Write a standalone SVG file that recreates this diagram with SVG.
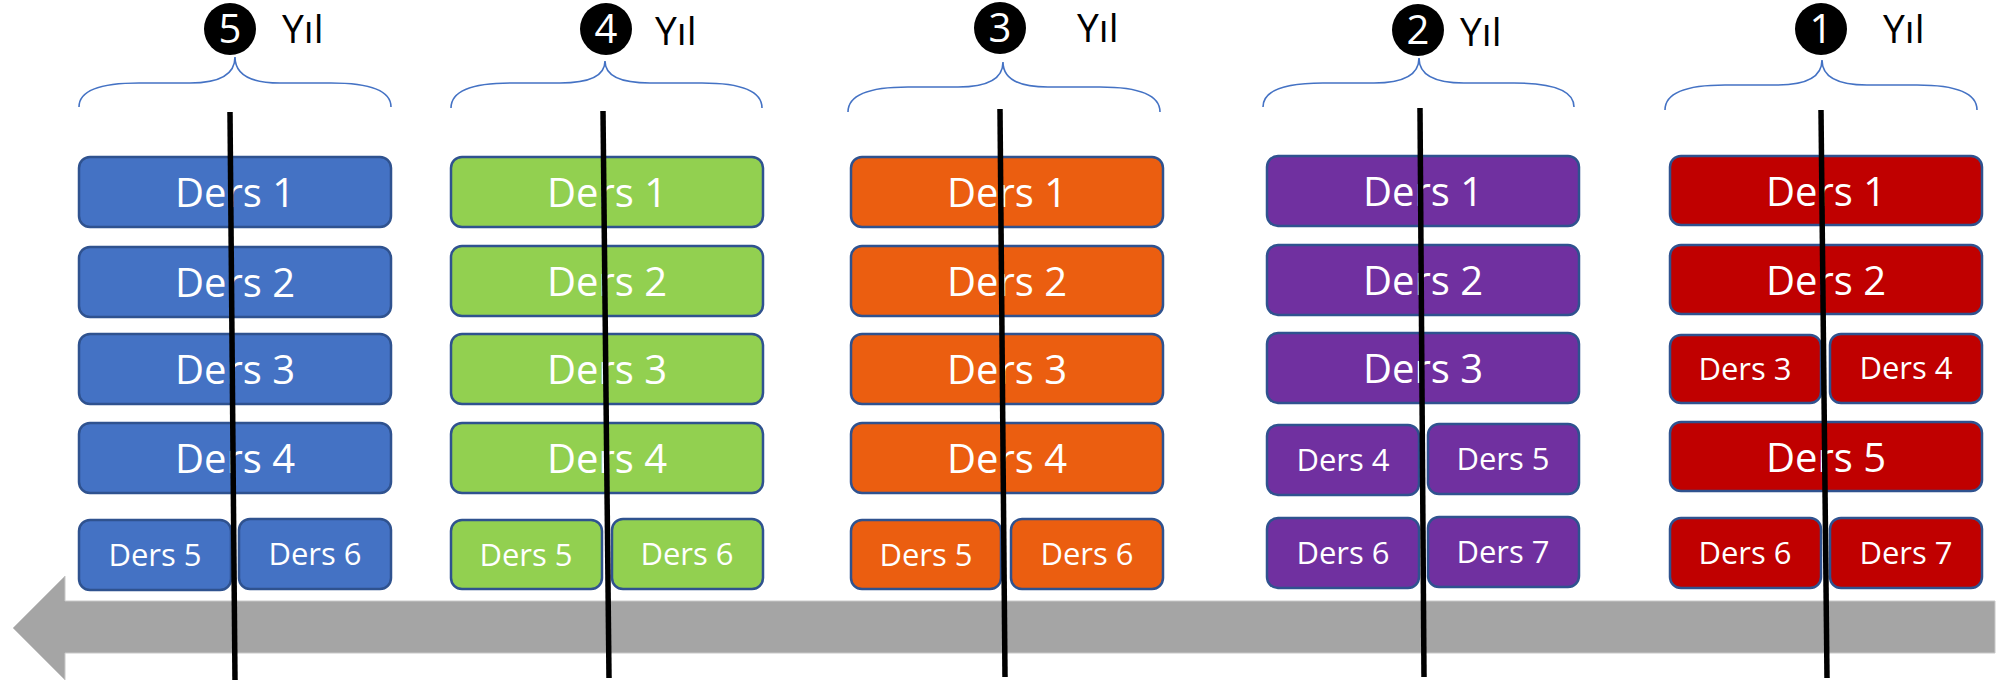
<svg xmlns="http://www.w3.org/2000/svg" width="2000" height="682" viewBox="0 0 2000 682">
<style>
.box{stroke:#2F528F;stroke-width:2.5}
.blue{fill:#4472C4}.green{fill:#92D050}.orange{fill:#EB5E10}.purple{fill:#7030A0}.red{fill:#C00000}
.big{font-family:"Open Sans","Noto Sans",sans-serif;font-size:40px;fill:#fff;text-anchor:middle}
.small{font-family:"Open Sans","Noto Sans",sans-serif;font-size:31px;fill:#fff;text-anchor:middle}
.brace{fill:none;stroke:#4472C4;stroke-width:1.6}
.num{font-family:"Open Sans","Noto Sans",sans-serif;font-size:40px;fill:#fff;text-anchor:middle}
.yil{font-family:"Open Sans","Noto Sans",sans-serif;font-size:39px;fill:#000}
.vline{stroke:#000;stroke-width:5.5}
</style>
<rect width="2000" height="682" fill="#fff"/>
<g id="timeline-arrow">
<polygon points="13,628 65,576 65,601 1995,601 1995,653 65,653 65,680" fill="#A5A5A5" stroke="#C8C8C8" stroke-width="1"/>
</g>
<!-- Year 5 -->
<g id="year5-header">
<path class="brace" d="M79,107 Q79,83 139,83 L190,83 Q235,83 235,57 Q235,83 280,83 L331,83 Q391,83 391,107"/>
<circle cx="230" cy="29" r="26" fill="#000"/>
<text class="num" x="230" y="43">5</text>
<text class="yil" x="282" y="43">Yıl</text>
</g>
<g id="y5-ders1"><rect class="box blue" x="79" y="157" width="312" height="70" rx="11"/><text class="big" x="235" y="207">Ders 1</text></g>
<g id="y5-ders2"><rect class="box blue" x="79" y="247" width="312" height="70" rx="11"/><text class="big" x="235" y="297">Ders 2</text></g>
<g id="y5-ders3"><rect class="box blue" x="79" y="334" width="312" height="70" rx="11"/><text class="big" x="235" y="384">Ders 3</text></g>
<g id="y5-ders4"><rect class="box blue" x="79" y="423" width="312" height="70" rx="11"/><text class="big" x="235" y="473">Ders 4</text></g>
<g id="y5-ders5"><rect class="box blue" x="79" y="520" width="152" height="70" rx="11"/><text class="small" x="155" y="566">Ders 5</text></g>
<g id="y5-ders6"><rect class="box blue" x="239" y="519" width="152" height="70" rx="11"/><text class="small" x="315" y="565">Ders 6</text></g>
<!-- Year 4 -->
<g id="year4-header">
<path class="brace" d="M451,108 Q451,83 511,83 L560,83 Q605,83 605,61 Q605,83 650,83 L702,83 Q762,83 762,108"/>
<circle cx="606" cy="29" r="26" fill="#000"/>
<text class="num" x="606" y="43">4</text>
<text class="yil" x="655" y="45">Yıl</text>
</g>
<g id="y4-ders1"><rect class="box green" x="451" y="157" width="312" height="70" rx="11"/><text class="big" x="607" y="207">Ders 1</text></g>
<g id="y4-ders2"><rect class="box green" x="451" y="246" width="312" height="70" rx="11"/><text class="big" x="607" y="296">Ders 2</text></g>
<g id="y4-ders3"><rect class="box green" x="451" y="334" width="312" height="70" rx="11"/><text class="big" x="607" y="384">Ders 3</text></g>
<g id="y4-ders4"><rect class="box green" x="451" y="423" width="312" height="70" rx="11"/><text class="big" x="607" y="473">Ders 4</text></g>
<g id="y4-ders5"><rect class="box green" x="451" y="520" width="151" height="69" rx="11"/><text class="small" x="526" y="566">Ders 5</text></g>
<g id="y4-ders6"><rect class="box green" x="612" y="519" width="151" height="70" rx="11"/><text class="small" x="687" y="565">Ders 6</text></g>
<!-- Year 3 -->
<g id="year3-header">
<path class="brace" d="M848,112 Q848,87 908,87 L958,87 Q1003,87 1003,62 Q1003,87 1048,87 L1100,87 Q1160,87 1160,112"/>
<circle cx="1000" cy="28" r="26" fill="#000"/>
<text class="num" x="1000" y="42">3</text>
<text class="yil" x="1077" y="42">Yıl</text>
</g>
<g id="y3-ders1"><rect class="box orange" x="851" y="157" width="312" height="70" rx="11"/><text class="big" x="1007" y="207">Ders 1</text></g>
<g id="y3-ders2"><rect class="box orange" x="851" y="246" width="312" height="70" rx="11"/><text class="big" x="1007" y="296">Ders 2</text></g>
<g id="y3-ders3"><rect class="box orange" x="851" y="334" width="312" height="70" rx="11"/><text class="big" x="1007" y="384">Ders 3</text></g>
<g id="y3-ders4"><rect class="box orange" x="851" y="423" width="312" height="70" rx="11"/><text class="big" x="1007" y="473">Ders 4</text></g>
<g id="y3-ders5"><rect class="box orange" x="851" y="520" width="150" height="69" rx="11"/><text class="small" x="926" y="566">Ders 5</text></g>
<g id="y3-ders6"><rect class="box orange" x="1011" y="519" width="152" height="70" rx="11"/><text class="small" x="1087" y="565">Ders 6</text></g>
<!-- Year 2 -->
<g id="year2-header">
<path class="brace" d="M1263,107 Q1263,83 1323,83 L1374,83 Q1419,83 1419,58 Q1419,83 1464,83 L1514,83 Q1574,83 1574,107"/>
<circle cx="1418" cy="30" r="26" fill="#000"/>
<text class="num" x="1418" y="44">2</text>
<text class="yil" x="1460" y="46">Yıl</text>
</g>
<g id="y2-ders1"><rect class="box purple" x="1267" y="156" width="312" height="70" rx="11"/><text class="big" x="1423" y="206">Ders 1</text></g>
<g id="y2-ders2"><rect class="box purple" x="1267" y="245" width="312" height="70" rx="11"/><text class="big" x="1423" y="295">Ders 2</text></g>
<g id="y2-ders3"><rect class="box purple" x="1267" y="333" width="312" height="70" rx="11"/><text class="big" x="1423" y="383">Ders 3</text></g>
<g id="y2-ders4"><rect class="box purple" x="1267" y="425" width="152" height="70" rx="11"/><text class="small" x="1343" y="471">Ders 4</text></g>
<g id="y2-ders5"><rect class="box purple" x="1428" y="424" width="151" height="70" rx="11"/><text class="small" x="1503" y="470">Ders 5</text></g>
<g id="y2-ders6"><rect class="box purple" x="1267" y="518" width="152" height="70" rx="11"/><text class="small" x="1343" y="564">Ders 6</text></g>
<g id="y2-ders7"><rect class="box purple" x="1428" y="517" width="151" height="70" rx="11"/><text class="small" x="1503" y="563">Ders 7</text></g>
<!-- Year 1 -->
<g id="year1-header">
<path class="brace" d="M1665,110 Q1665,85 1725,85 L1777,85 Q1822,85 1822,60 Q1822,85 1867,85 L1917,85 Q1977,85 1977,110"/>
<circle cx="1821" cy="29" r="26" fill="#000"/>
<text class="num" x="1821" y="43">1</text>
<text class="yil" x="1883" y="43">Yıl</text>
</g>
<g id="y1-ders1"><rect class="box red" x="1670" y="156" width="312" height="69" rx="11"/><text class="big" x="1826" y="206">Ders 1</text></g>
<g id="y1-ders2"><rect class="box red" x="1670" y="245" width="312" height="69" rx="11"/><text class="big" x="1826" y="295">Ders 2</text></g>
<g id="y1-ders3"><rect class="box red" x="1670" y="335" width="151" height="68" rx="11"/><text class="small" x="1745" y="380">Ders 3</text></g>
<g id="y1-ders4"><rect class="box red" x="1830" y="334" width="152" height="69" rx="11"/><text class="small" x="1906" y="379">Ders 4</text></g>
<g id="y1-ders5"><rect class="box red" x="1670" y="422" width="312" height="69" rx="11"/><text class="big" x="1826" y="472">Ders 5</text></g>
<g id="y1-ders6"><rect class="box red" x="1670" y="518" width="151" height="70" rx="11"/><text class="small" x="1745" y="564">Ders 6</text></g>
<g id="y1-ders7"><rect class="box red" x="1830" y="518" width="152" height="70" rx="11"/><text class="small" x="1906" y="564">Ders 7</text></g>
<g id="connectors">
<line class="vline" x1="230" y1="112" x2="235" y2="680"/>
<line class="vline" x1="603" y1="111" x2="609" y2="678"/>
<line class="vline" x1="1000" y1="109" x2="1005" y2="677"/>
<line class="vline" x1="1420" y1="108" x2="1424" y2="677"/>
<line class="vline" x1="1821" y1="110" x2="1827" y2="678"/>
</g>
</svg>
